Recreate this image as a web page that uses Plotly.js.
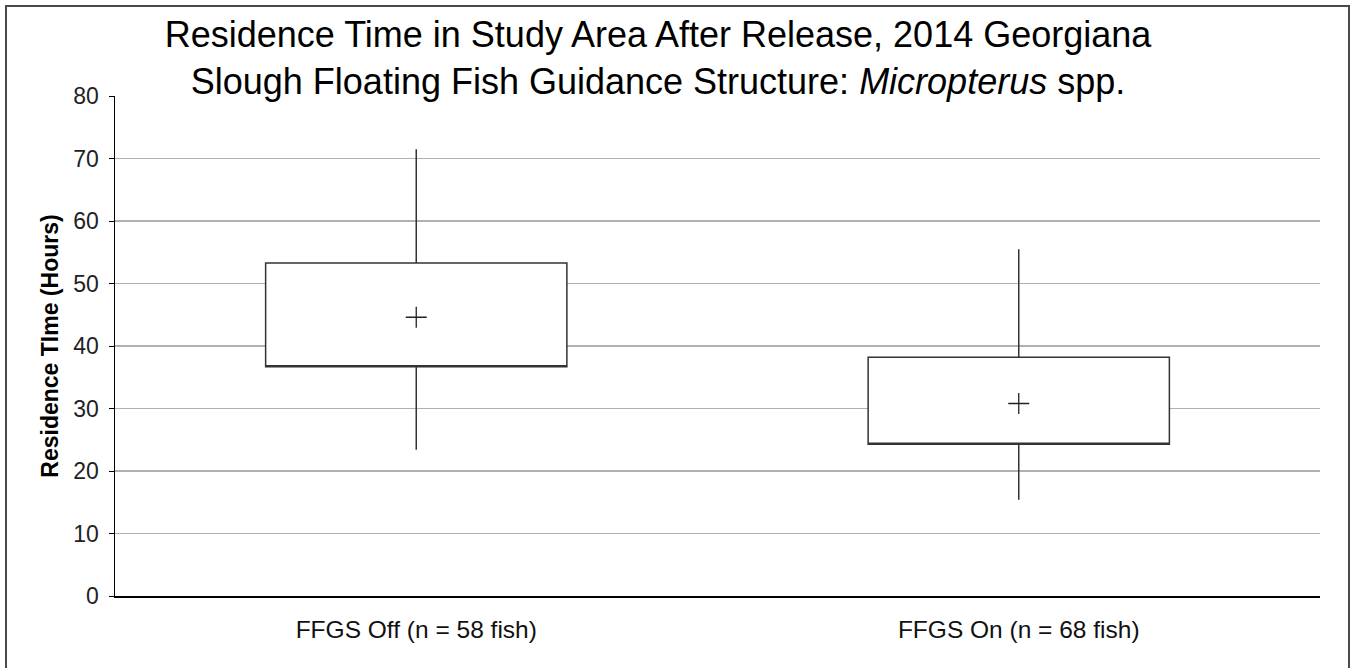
<!DOCTYPE html>
<html>
<head>
<meta charset="utf-8">
<script src="https://cdn.plot.ly/plotly-3.0.1.min.js"></script>
<style>
  html, body { margin: 0; padding: 0; background: #ffffff; }
  #frame { position: absolute; left: 5px; top: 5px; width: 1341px; height: 700px; border: 2px solid #4a4a4a; }
  #chart { position: absolute; left: 0; top: 0; width: 1351px; height: 668px; }
</style>
</head>
<body>
<div id="frame"></div>
<div id="chart"></div>
<script>
// Data
const categories = ["FFGS Off (n = 58 fish)", "FFGS On (n = 68 fish)"];
const q1Values = [36.7, 24.3];
const q3Values = [53.3, 38.2];
const lowerWhisker = [23.4, 15.4];
const upperWhisker = [71.5, 55.5];
const meanValues = [44.6, 30.8];

const boxTrace = {
  type: "box",
  x: categories,
  q1: q1Values,
  median: q1Values,
  q3: q3Values,
  lowerfence: lowerWhisker,
  upperfence: upperWhisker,
  fillcolor: "#ffffff",
  line: { color: "#333333", width: 1.5 },
  whiskerwidth: 0,
  width: 0.5,
  boxpoints: false,
  hoverinfo: "skip",
  showlegend: false
};

const meanTrace = {
  type: "scatter",
  mode: "markers",
  x: categories,
  y: meanValues,
  marker: { symbol: "cross-thin", size: 15, color: "#222222", line: { color: "#222222", width: 1.3 } },
  hoverinfo: "skip",
  showlegend: false
};

const layout = {
  width: 1351,
  height: 668,
  margin: { l: 115, r: 31, t: 96, b: 72 },
  paper_bgcolor: "rgba(0,0,0,0)",
  plot_bgcolor: "#ffffff",
  font: { family: "Liberation Sans, Arial, sans-serif", color: "#000000" },
  title: {
    text: "Residence Time in Study Area After Release, 2014 Georgiana<br>Slough Floating Fish Guidance Structure: <i>Micropterus</i> spp.",
    font: { family: "Liberation Sans, Arial, sans-serif", size: 36, color: "#000000" },
    x: 658 / 1351,
    xanchor: "center",
    xref: "container",
    y: 1 - 47 / 668,
    yanchor: "middle",
    yref: "container"
  },
  xaxis: {
    type: "category",
    range: [-0.5, 1.5],
    showgrid: false,
    showline: true,
    linecolor: "#000000",
    linewidth: 1.5,
    ticks: "",
    ticklabelstandoff: 11,
    tickfont: { size: 24.5, color: "#111111" },
    fixedrange: true
  },
  yaxis: {
    range: [0, 80],
    dtick: 10,
    tick0: 0,
    showgrid: true,
    gridcolor: "#b0b0b0",
    gridwidth: 1.5,
    zeroline: false,
    showline: true,
    linecolor: "#000000",
    linewidth: 1.5,
    ticks: "outside",
    ticklen: 5,
    tickcolor: "#000000",
    ticklabelstandoff: 5,
    tickfont: { size: 23, color: "#222222" },
    title: { text: "<b>Residence TIme (Hours)</b>", font: { size: 23, color: "#000000" }, standoff: 8 },
    fixedrange: true
  }
};

Plotly.newPlot("chart", [boxTrace, meanTrace], layout, { displayModeBar: false, staticPlot: true });
</script>
</body>
</html>
